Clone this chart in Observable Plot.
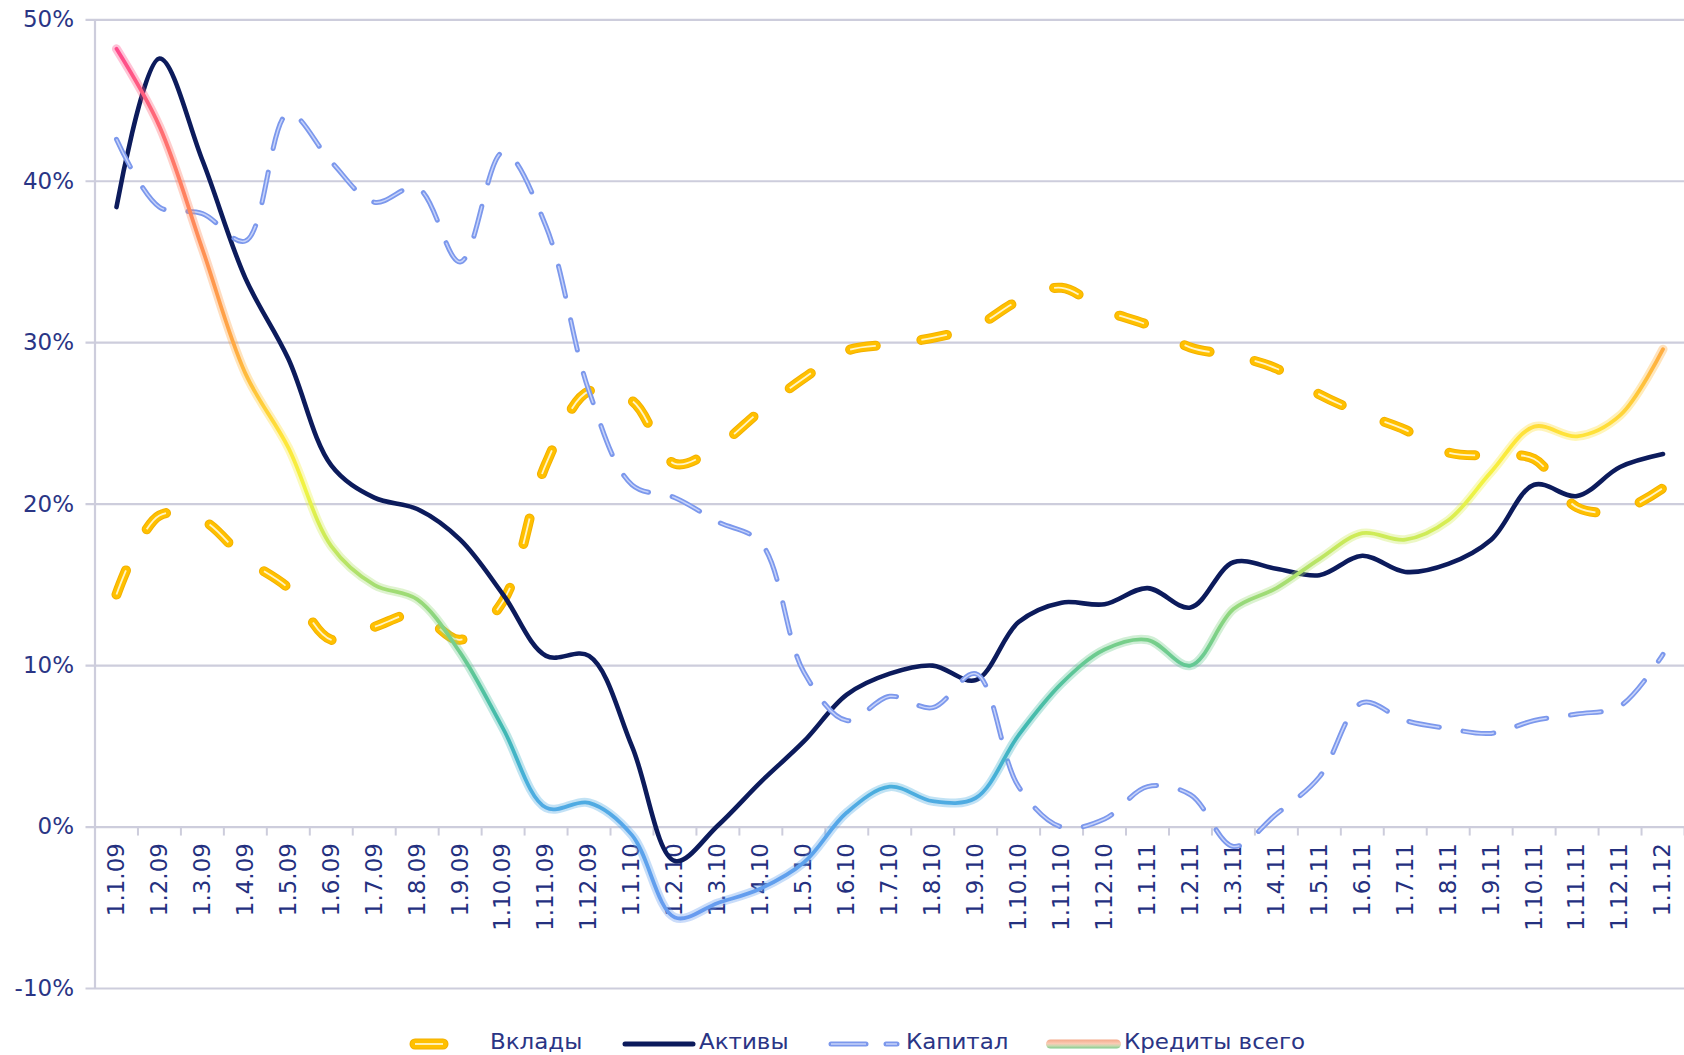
<!DOCTYPE html>
<html>
<head>
<meta charset="utf-8">
<script src="https://cdn.jsdelivr.net/npm/d3@7"></script>
<script src="https://cdn.jsdelivr.net/npm/@observablehq/plot@0.6"></script>
<style>
  html, body { margin: 0; padding: 0; background: #ffffff; }
  #wrap { position: relative; width: 1684px; height: 1055px; overflow: hidden; background: #fff; }
  #legend { position: absolute; left: 0; top: 1013px; width: 1684px; height: 42px;
            font-family: "DejaVu Sans", sans-serif; font-size: 20.5px; color: #2A3585; }
  .sw { position: absolute; top: 0; }
  .lab { position: absolute; top: 19px; line-height: 1; white-space: nowrap;
         transform: scaleX(1.12); transform-origin: left center; }
</style>
</head>
<body>
<div id="wrap">
  <div id="chart"></div>
  <div id="legend"></div>
</div>
<script>
// ---------------- data ----------------
const categories = [
  "1.1.09","1.2.09","1.3.09","1.4.09","1.5.09","1.6.09","1.7.09","1.8.09","1.9.09","1.10.09","1.11.09","1.12.09",
  "1.1.10","1.2.10","1.3.10","1.4.10","1.5.10","1.6.10","1.7.10","1.8.10","1.9.10","1.10.10","1.11.10","1.12.10",
  "1.1.11","1.2.11","1.3.11","1.4.11","1.5.11","1.6.11","1.7.11","1.8.11","1.9.11","1.10.11","1.11.11","1.12.11",
  "1.1.12"
];
// Вклады
const deposits = [14.4, 19.3, 19.0, 16.6, 14.8, 11.6, 12.4, 13.2, 11.6, 14.0, 22.5, 27.0,
                  26.4, 22.5, 23.6, 25.8, 27.8, 29.5, 29.9, 30.3, 31.0, 32.6, 33.4, 32.0,
                  31.1, 29.7, 29.2, 28.4, 26.8, 25.6, 24.6, 23.2, 23.0, 22.8, 19.8, 19.6, 21.0];
// Активы
const assets = [38.4, 47.6, 41.3, 34.0, 29.0, 22.4, 20.4, 19.7, 17.8, 14.4, 10.6, 10.6,
                5.0, -2.1, 0.1, 2.8, 5.3, 8.2, 9.5, 10.0, 9.1, 12.7, 13.9, 13.8,
                14.8, 13.6, 16.4, 16.0, 15.6, 16.8, 15.8, 16.3, 17.8, 21.2, 20.5, 22.3, 23.1];
// Капитал
const capital = [42.6, 38.4, 38.0, 36.3, 44.2, 41.2, 38.7, 39.6, 35.0, 41.8, 37.2, 27.0,
                 21.2, 20.4, 18.9, 17.6, 9.6, 6.6, 8.1, 7.4, 9.5, 2.5, 0.0, 0.5,
                 2.5, 2.0, -1.2, 0.8, 3.1, 7.7, 6.6, 6.1, 5.8, 6.6, 7.0, 7.5, 10.7];
// Кредиты всего
const loans = [48.2, 43.4, 35.8, 28.1, 23.5, 17.4, 15.0, 14.1, 10.8, 6.1, 1.2, 1.5,
               -0.5, -5.6, -4.7, -3.8, -2.2, 0.9, 2.5, 1.6, 1.8, 5.7, 8.9, 11.0,
               11.6, 10.0, 13.5, 14.8, 16.6, 18.2, 17.8, 19.0, 22.0, 24.8, 24.2, 25.5, 29.6];

const yTicks = [-10, 0, 10, 20, 30, 40, 50];
const seriesNames = ["Вклады", "Активы", "Капитал", "Кредиты всего"];

// colour of the "Кредиты всего" line as a function of its value
const loanStopValues = [48, 44, 40, 35, 30, 27, 24, 21, 18, 15, 12, 9, 6, 3, 0, -6];
const loanStopColors = ["#FF4C8C", "#FF6878", "#FF7E62", "#FF9350", "#FFA843", "#FFC53A", "#FFE63A",
                        "#F0F444", "#CDEB58", "#A6DE72", "#7ED186", "#56C49C", "#3FB8B2", "#47B0DA",
                        "#56A6EA", "#6A9AF0"];

// ---------------- styles ----------------
const C = {
  grid: "#CDCDDC",
  text: "#2A3585",
  gold: "#FFC000", goldEdge: "#F2B000", goldHi: "#FFF4C8",
  navy: "#0C1B5C",
  blue: "#7C98EC", blueHi: "#C7D3FA"
};
const GOLD_DASH = "26,46";
const BLUE_DASH = "31,24";

const rows = categories.map((c, i) => ({
  i, c,
  deposits: deposits[i], assets: assets[i], capital: capital[i], loans: loans[i]
}));
const boundaries = d3.range(categories.length + 1).map(k => k - 0.5);
const curve = "catmull-rom";

// gradient definition mark (uses the y scale)
function loanGradient(index, scales) {
  const ns = "http://www.w3.org/2000/svg";
  const defs = document.createElementNS(ns, "defs");
  const lg = document.createElementNS(ns, "linearGradient");
  lg.setAttribute("id", "loansGrad");
  lg.setAttribute("gradientUnits", "userSpaceOnUse");
  const yA = scales.y(loanStopValues[0]);
  const yB = scales.y(loanStopValues[loanStopValues.length - 1]);
  lg.setAttribute("x1", 0); lg.setAttribute("x2", 0);
  lg.setAttribute("y1", yA); lg.setAttribute("y2", yB);
  loanStopValues.forEach((v, k) => {
    const s = document.createElementNS(ns, "stop");
    s.setAttribute("offset", (scales.y(v) - yA) / (yB - yA));
    s.setAttribute("stop-color", loanStopColors[k]);
    lg.appendChild(s);
  });
  defs.appendChild(lg);
  return defs;
}

const chart = Plot.plot({
  width: 1684,
  height: 1010,
  marginLeft: 94.5,
  marginRight: 0,
  marginTop: 19.3,
  marginBottom: 22,
  style: {
    fontFamily: "'DejaVu Sans', sans-serif",
    fontSize: "23px",
    color: C.text,
    background: "#fff",
    overflow: "visible"
  },
  x: { domain: [-0.5, categories.length - 0.5], axis: null },
  y: { domain: [-10, 50], ticks: yTicks, tickFormat: d => `${d}%`, tickSize: 0, tickPadding: 21, label: null },
  marks: [
    loanGradient,
    // grid lines with left tick stubs
    Plot.ruleY(yTicks, { stroke: C.grid, strokeWidth: 2.2, insetLeft: -9 }),
    // y axis line
    Plot.ruleX([-0.5], { stroke: C.grid, strokeWidth: 2.2 }),
    // category tick marks below the 0% line
    Plot.ruleX(boundaries, { x: d => d, y1: () => 0, y2: () => 0, insetBottom: -9, stroke: C.grid, strokeWidth: 2 }),
    // category labels
    Plot.text(rows, { x: "i", y: () => 0, text: "c", rotate: -90, textAnchor: "end", dy: 16,
                      fill: "#24307F", fontSize: 23 }),
    // Вклады
    Plot.line(rows, { x: "i", y: "deposits", curve, stroke: C.goldEdge, strokeWidth: 10,
                      strokeDasharray: GOLD_DASH, strokeLinecap: "round" }),
    Plot.line(rows, { x: "i", y: "deposits", curve, stroke: C.gold, strokeWidth: 8,
                      strokeDasharray: GOLD_DASH, strokeLinecap: "round" }),
    Plot.line(rows, { x: "i", y: "deposits", curve, stroke: C.goldHi, strokeWidth: 1.8,
                      strokeDasharray: GOLD_DASH, strokeLinecap: "butt" }),
    // Активы
    Plot.line(rows, { x: "i", y: "assets", curve, stroke: C.navy, strokeWidth: 4.6 }),
    // Капитал
    Plot.line(rows, { x: "i", y: "capital", curve, stroke: C.blue, strokeWidth: 5,
                      strokeDasharray: BLUE_DASH, strokeLinecap: "round" }),
    Plot.line(rows, { x: "i", y: "capital", curve, stroke: C.blueHi, strokeWidth: 1.5,
                      strokeDasharray: BLUE_DASH, strokeLinecap: "butt" }),
    // Кредиты всего
    Plot.line(rows, { x: "i", y: "loans", curve, stroke: "url(#loansGrad)", strokeWidth: 9,
                      strokeOpacity: 0.35 }),
    Plot.line(rows, { x: "i", y: "loans", curve, stroke: "url(#loansGrad)", strokeWidth: 3.8 })
  ]
});
document.getElementById("chart").appendChild(chart);

// ---------------- legend ----------------
const legend = d3.select("#legend");
const legendLayout = [
  { sw: 410, sww: 38, lab: 490 },
  { sw: 623, sww: 72, lab: 699 },
  { sw: 829, sww: 70, lab: 906 },
  { sw: 1046, sww: 75, lab: 1124 }
];
seriesNames.forEach((name, k) => {
  const L = legendLayout[k];
  const svg = legend.append("svg").attr("class", "sw")
    .style("left", `${L.sw - 6}px`).attr("width", L.sww + 12).attr("height", 42);
  const yc = 31, x0 = 6, x1 = 6 + L.sww;
  if (k === 0) {
    svg.append("line").attr("x1", x0 + 5).attr("x2", x1 - 5).attr("y1", yc).attr("y2", yc)
      .attr("stroke", C.goldEdge).attr("stroke-width", 11).attr("stroke-linecap", "round");
    svg.append("line").attr("x1", x0 + 5).attr("x2", x1 - 5).attr("y1", yc).attr("y2", yc)
      .attr("stroke", C.gold).attr("stroke-width", 9).attr("stroke-linecap", "round");
    svg.append("line").attr("x1", x0 + 5).attr("x2", x1 - 5).attr("y1", yc).attr("y2", yc)
      .attr("stroke", C.goldHi).attr("stroke-width", 1.8);
  } else if (k === 1) {
    svg.append("line").attr("x1", x0 + 2).attr("x2", x1 - 2).attr("y1", yc).attr("y2", yc)
      .attr("stroke", C.navy).attr("stroke-width", 5).attr("stroke-linecap", "round");
  } else if (k === 2) {
    [[x0 + 2, x0 + 37], [x0 + 57, x0 + 68]].forEach(([a, b]) => {
      svg.append("line").attr("x1", a).attr("x2", b).attr("y1", yc).attr("y2", yc)
        .attr("stroke", C.blue).attr("stroke-width", 5).attr("stroke-linecap", "round");
      svg.append("line").attr("x1", a).attr("x2", b).attr("y1", yc).attr("y2", yc)
        .attr("stroke", C.blueHi).attr("stroke-width", 1.5);
    });
  } else {
    const g = svg.append("defs").append("linearGradient").attr("id", "legLoans")
      .attr("x1", 0).attr("x2", 0).attr("y1", 0).attr("y2", 1);
    g.append("stop").attr("offset", 0).attr("stop-color", "#F4A98A");
    g.append("stop").attr("offset", 0.45).attr("stop-color", "#F9CBB4");
    g.append("stop").attr("offset", 0.7).attr("stop-color", "#C9D9B0");
    g.append("stop").attr("offset", 1).attr("stop-color", "#7FCB8C");
    svg.append("rect").attr("x", x0).attr("y", yc - 4.5).attr("width", L.sww).attr("height", 9)
      .attr("rx", 4.5).attr("fill", "url(#legLoans)");
  }
  legend.append("div").attr("class", "lab").style("left", `${L.lab}px`).text(name);
});
</script>
</body>
</html>
